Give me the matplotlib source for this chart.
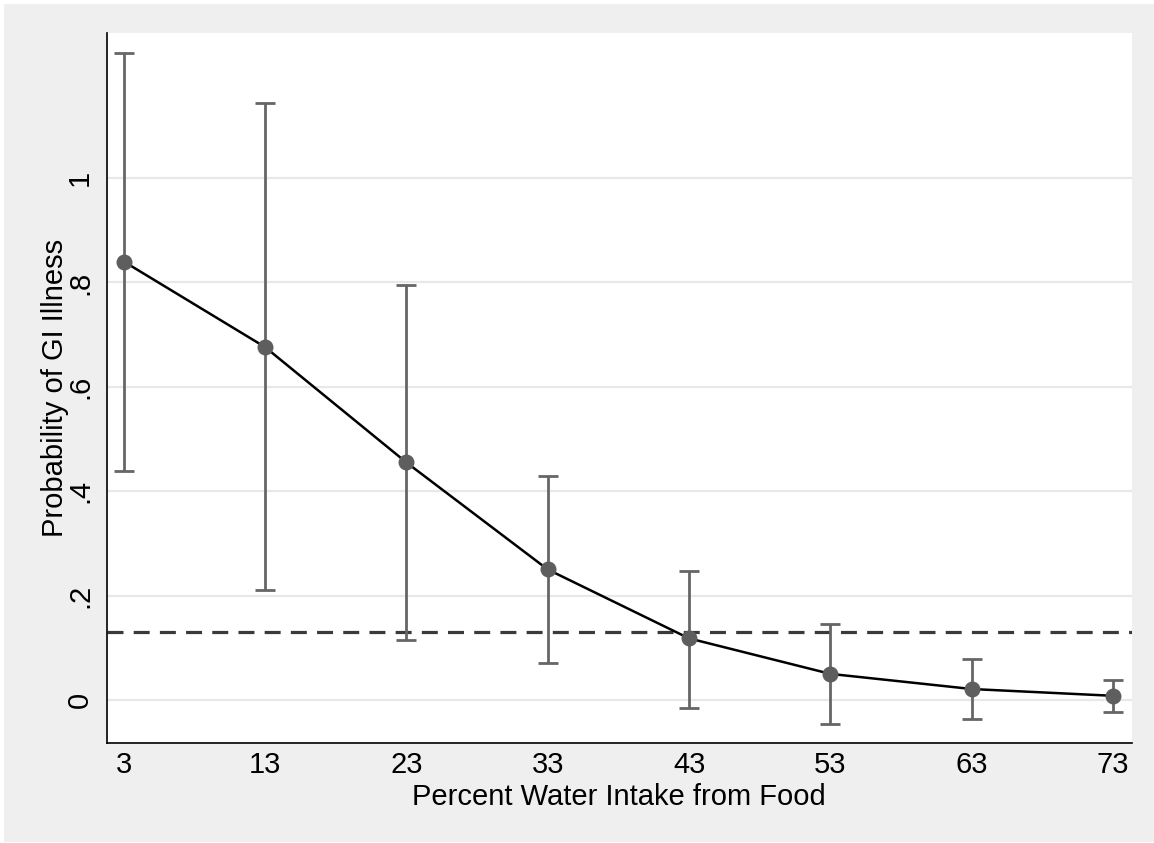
import numpy as np
import matplotlib
matplotlib.use("Agg")
import matplotlib.pyplot as plt
from matplotlib.patches import Rectangle

# values
pct_food = [3, 13, 23, 33, 43, 53, 63, 73]
prob_ill = [0.840, 0.676, 0.455, 0.250, 0.118, 0.050, 0.021, 0.008]
ci_upper = [1.239, 1.143, 0.795, 0.429, 0.248, 0.146, 0.078, 0.039]
ci_lower = [0.438, 0.210, 0.114, 0.070, -0.015, -0.046, -0.037, -0.023]
ref_line = 0.13

y_ticks = [0, 0.2, 0.4, 0.6, 0.8, 1.0]
y_ticklabels = ["0", ".2", ".4", ".6", ".8", "1"]

plt.rcParams['font.family'] = ['Liberation Sans', 'DejaVu Sans']

fig = plt.figure(figsize=(11.54, 8.43), dpi=100, facecolor='white')
# stata-ish grey graph region
fig.patches.append(Rectangle((4/1154, 1/843), 1150/1154, 838/843, transform=fig.transFigure,
                             facecolor='#efefef', edgecolor='none', zorder=-10))

ax = fig.add_axes([0.0923, 0.119, 0.8884, 0.842])
ax.set_facecolor('white')

x = np.array(pct_food)
y = np.array(prob_ill)
yerr = [y - np.array(ci_lower), np.array(ci_upper) - y]

ax.axhline(ref_line, color='#3a3a3a', lw=2.3, dashes=(5, 3.2), zorder=2)
ax.errorbar(x, y, yerr=yerr, fmt='none', ecolor='#666666', elinewidth=2.0,
            capsize=7.5, capthick=2.0, zorder=3)
ax.plot(x, y, color='black', lw=1.8, zorder=4)
ax.plot(x, y, 'o', color='#5e5e5e', markersize=11.5, markeredgewidth=0, zorder=5)

ax.set_xlim(1.78, 74.32)
ax.set_ylim(-0.0818, 1.278)
ax.set_xticks(pct_food)
ax.set_xticklabels([str(v) for v in pct_food])
ax.set_yticks(y_ticks)
ax.set_yticklabels(y_ticklabels, rotation=90, va='center')

ax.grid(axis='y', color='#e8e8e8', lw=1.6)
ax.set_axisbelow(True)
for s in ['top', 'right']:
    ax.spines[s].set_visible(False)
for s in ['left', 'bottom']:
    ax.spines[s].set_color('black')
    ax.spines[s].set_linewidth(1.2)

ax.tick_params(axis='both', length=0, labelsize=21)
ax.tick_params(axis='x', pad=6)
ax.tick_params(axis='y', pad=9)

ax.set_xlabel('Percent Water Intake from Food', fontsize=21, labelpad=3)
ax.set_ylabel('Probability of GI Illness', fontsize=21, labelpad=-2)

fig.savefig('out.png', dpi=100, facecolor='white')
